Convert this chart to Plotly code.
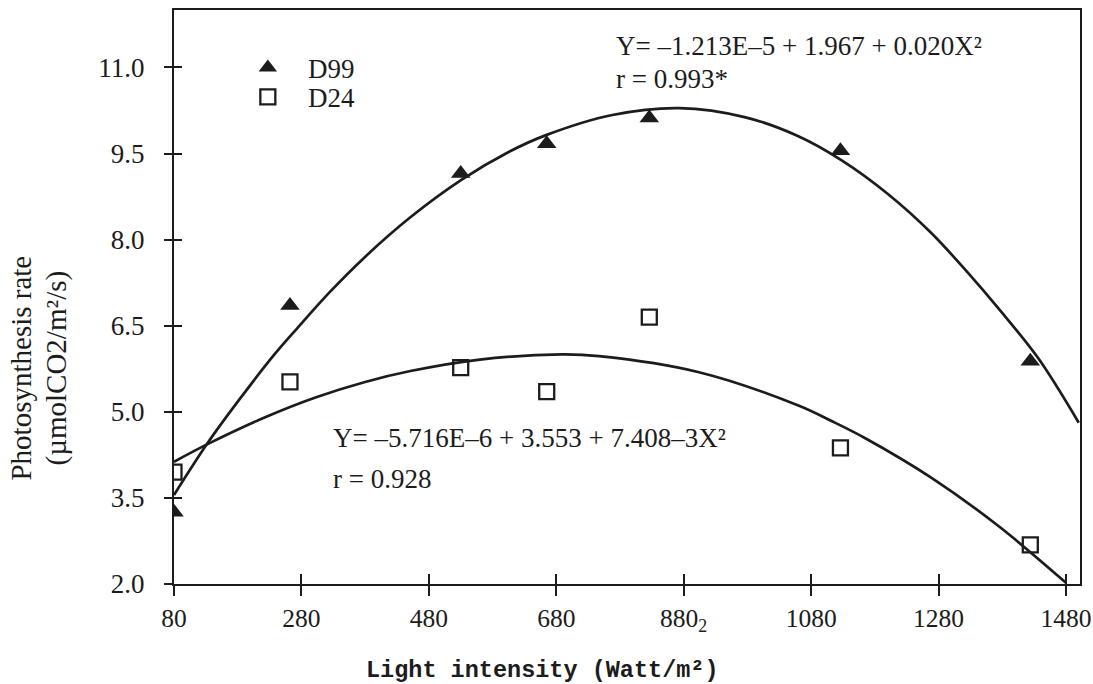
import plotly.graph_objects as go

# Measured points
light = [80, 262, 530, 665, 826, 1126, 1424]
d99 = [3.25, 6.85, 9.15, 9.67, 10.12, 9.55, 5.88]
d24 = [3.95, 5.52, 5.77, 5.35, 6.65, 4.37, 2.68]

# Fitted curves
fit99_x = [80, 133, 183, 237, 273, 324, 379, 450, 531, 606, 664, 768, 873, 977, 1060, 1128, 1201, 1269, 1327, 1374, 1436, 1500]
fit99_y = [3.55, 4.46, 5.22, 5.99, 6.45, 7.08, 7.69, 8.38, 9.04, 9.53, 9.82, 10.17, 10.29, 10.13, 9.80, 9.38, 8.79, 8.11, 7.41, 6.80, 5.94, 4.81]
fit24_x = [80, 135, 224, 302, 380, 451, 560, 689, 747, 904, 1060, 1112, 1165, 1269, 1374, 1480]
fit24_y = [4.13, 4.45, 4.91, 5.25, 5.52, 5.71, 5.91, 6.00, 5.97, 5.69, 5.11, 4.84, 4.54, 3.85, 3.01, 2.02]

x_ticks = [80, 280, 480, 680, 880, 1080, 1280, 1480]
x_ticktext = ["80", "280", "480", "680", "880<sub>2</sub>", "1080", "1280", "1480"]
y_ticks = [2.0, 3.5, 5.0, 6.5, 8.0, 9.5, 11.0]
y_ticktext = ["2.0", "3.5", "5.0", "6.5", "8.0", "9.5", "11.0"]

INK = "#1c1c1c"
SERIF = "Liberation Serif"
FS = 27

fig = go.Figure()
fig.add_trace(go.Scatter(x=fit99_x, y=fit99_y, mode="lines",
                         line=dict(color=INK, width=2.7, shape="spline", smoothing=1.0),
                         showlegend=False, hoverinfo="skip"))
fig.add_trace(go.Scatter(x=fit24_x, y=fit24_y, mode="lines",
                         line=dict(color=INK, width=2.7, shape="spline", smoothing=1.0),
                         showlegend=False, hoverinfo="skip"))
fig.add_trace(go.Scatter(x=light, y=d99, mode="markers", name="\u00a0\u00a0\u00a0D99", legend="legend",
                         marker=dict(symbol="triangle-up", size=17, color=INK, line=dict(width=0))))
fig.add_trace(go.Scatter(x=light, y=d24, mode="markers", name="\u00a0\u00a0\u00a0D24", legend="legend2",
                         marker=dict(symbol="square-open", size=15, color=INK, line=dict(width=2.3, color=INK))))
# invisible trace so the overlay axes (inner half of the crossing ticks) are drawn
fig.add_trace(go.Scatter(x=light, y=d24, mode="markers", xaxis="x2", yaxis="y2",
                         marker=dict(size=1, opacity=0), showlegend=False, hoverinfo="skip"))

axis_common = dict(showgrid=False, zeroline=False, color=INK, automargin=False)
legend_common = dict(xanchor="left", yanchor="middle", bgcolor="rgba(0,0,0,0)",
                     font=dict(family=SERIF, size=FS, color=INK), itemsizing="trace")
fig.update_layout(
    width=1093, height=684,
    margin=dict(l=174, r=13, t=10, b=100, autoexpand=False),
    paper_bgcolor="white", plot_bgcolor="white",
    font=dict(family=SERIF, size=FS, color=INK),
    xaxis=dict(range=[80, 1502], tickvals=x_ticks, ticktext=x_ticktext, ticks="outside", ticklen=10, tickwidth=2,
               tickcolor=INK, showline=True, linecolor=INK, linewidth=2, mirror=True, ticklabelstandoff=0,
               ticklabeloverflow="allow",
               tickfont=dict(family=SERIF, size=25.5, color=INK), **axis_common),
    yaxis=dict(range=[2, 12], tickvals=y_ticks, ticktext=y_ticktext, ticks="outside", ticklen=8, tickwidth=2,
               tickcolor=INK, showline=True, linecolor=INK, linewidth=2, mirror=True, ticklabelstandoff=14,
               tickfont=dict(family=SERIF, size=FS, color=INK), **axis_common),
    xaxis2=dict(range=[80, 1502], overlaying="x", anchor="y", side="bottom", tickvals=x_ticks, ticks="inside",
                ticklen=10, tickwidth=2, tickcolor=INK, showticklabels=False, showline=False, **axis_common),
    yaxis2=dict(range=[2, 12], overlaying="y", anchor="x", side="left", tickvals=y_ticks, ticks="inside",
                ticklen=8, tickwidth=2, tickcolor=INK, showticklabels=False, showline=False, **axis_common),
    legend=dict(x=0.0815, y=0.899, **legend_common),
    legend2=dict(x=0.0815, y=0.848, **legend_common),
    showlegend=True,
)

ann = dict(showarrow=False, xref="paper", yref="paper", font=dict(family=SERIF, size=FS, color=INK))
fig.add_annotation(text="Y= –1.213E–5 + 1.967 + 0.020X²", x=0.486, y=0.937, xanchor="left", yanchor="middle", **ann)
fig.add_annotation(text="r = 0.993*", x=0.486, y=0.880, xanchor="left", yanchor="middle", **ann)
fig.add_annotation(text="Y= –5.716E–6 + 3.553 + 7.408–3X²", x=0.173, y=0.254, xanchor="left", yanchor="middle", **ann)
fig.add_annotation(text="r = 0.928", x=0.173, y=0.183, xanchor="left", yanchor="middle", **ann)
ytitle = dict(showarrow=False, xref="paper", yref="paper", textangle=-90, xanchor="center", yanchor="middle",
              font=dict(family=SERIF, size=29, color=INK))
fig.add_annotation(text="Photosynthesis rate", x=-0.1685, y=0.376, **ytitle)
fig.add_annotation(text="(µmolCO2/m²/s)", x=-0.130, y=0.376, **ytitle)
fig.add_annotation(text="<b>Light intensity (Watt/m²)</b>", x=0.407, y=-0.150, xanchor="center", yanchor="middle",
                   showarrow=False, xref="paper", yref="paper",
                   font=dict(family="Liberation Mono", size=23.5, color=INK))

fig.write_html("out.html")
